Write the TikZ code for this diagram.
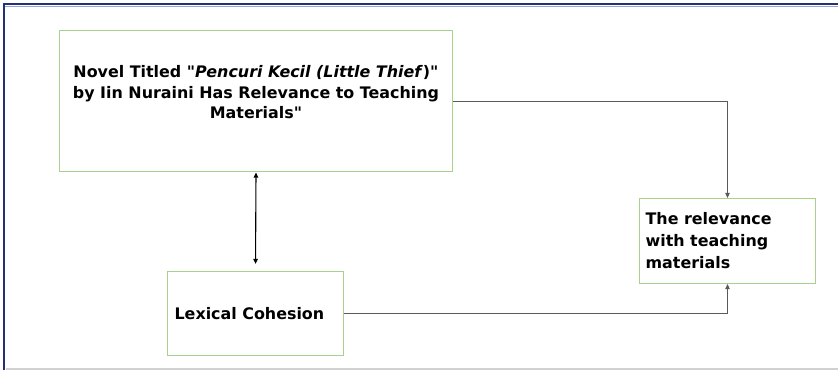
\documentclass[tikz,border=0pt]{standalone}
\usepackage{fontspec}
\setmainfont{DejaVu Sans}[Ligatures=TeXOff]
\usetikzlibrary{arrows.meta,positioning}
\definecolor{boxgreen}{RGB}{169,209,142}
\definecolor{framenavy}{RGB}{36,48,120}
\definecolor{framelight}{RGB}{150,165,215}
\definecolor{linegrey}{RGB}{90,90,90}

\begin{document}
\begin{tikzpicture}[
  x=1pt, y=-1pt,
  box/.style={draw=boxgreen, line width=1.2pt, fill=white,
              minimum width=176pt, minimum height=84pt, inner sep=0pt},
  txt/.style={font=\fontsize{15.9}{20.5}\selectfont\bfseries, inner sep=0pt},
  arr/.style={-{Triangle[length=5pt,width=4.5pt]}, linegrey, line width=0.9pt},
  dbl/.style={{Triangle[length=5pt,width=4.5pt]}-{Triangle[length=5pt,width=4.5pt]},
              black, line width=1.1pt}
]
\useasboundingbox (0,0) rectangle (838,370);
% frame
\draw[framelight, line width=1pt] (5,6) -- (838,6);
\draw[framenavy, line width=2.6pt] (4,370) -- (4,4) -- (838,4);
\draw[black!18, line width=1.2pt] (6,369) -- (838,369);

% boxes
\node[box, minimum width=393pt, minimum height=141pt] (novel) at (256,101) {};
\node[txt, align=center] (novel-txt) at ([yshift=8.5pt]novel.center)
  {Novel Titled \textit{"Pencuri Kecil (Little Thief}\/)"\\
   by Iin Nuraini Has Relevance to Teaching\\
   Materials"};
\node[box] (lex) at (255.5,313.5) {};
\node[txt, anchor=west] (lex-txt) at ([xshift=7.5pt]lex.west) {Lexical Cohesion};
\node[box, minimum height=85pt] (rel) at (727.5,241) {};
\node[txt, anchor=west, align=left, font=\fontsize{15.9}{22}\selectfont\bfseries]
  (rel-txt) at ([xshift=6.5pt]rel.west)
  {The relevance\\with teaching\\materials};

% connectors
\draw[dbl, shorten <=0.5pt, shorten >=7pt] (novel.south) -- (lex.north);
\draw[arr] (novel.east) -| (rel.north);
\draw[arr] (lex.east) -| (rel.south);
\end{tikzpicture}
\end{document}
